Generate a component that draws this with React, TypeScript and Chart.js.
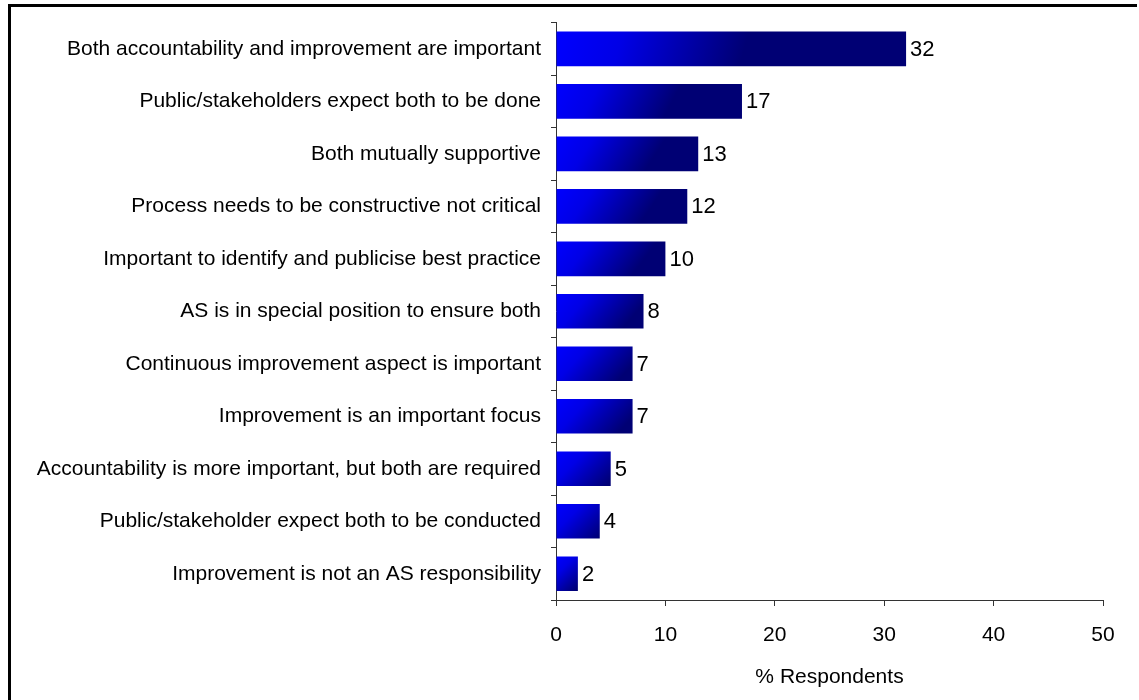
import React, { useEffect, useRef } from "react";
import { Chart, registerables } from "chart.js";

Chart.register(...registerables);

const categories = [
  "Both accountability and improvement are important",
  "Public/stakeholders expect both to be done",
  "Both mutually supportive",
  "Process needs to be constructive not critical",
  "Important to identify and publicise best practice",
  "AS is in special position to ensure both",
  "Continuous improvement aspect is important",
  "Improvement is an important focus",
  "Accountability is more important, but both are required",
  "Public/stakeholder expect both to be conducted",
  "Improvement is not an AS responsibility",
];

const respondents = [32, 17, 13, 12, 10, 8, 7, 7, 5, 4, 2];

const xAxisTitle = "% Respondents";
const xMin = 0;
const xMax = 50;
const xStep = 10;

const FONT = "'Liberation Sans', Arial, sans-serif";
const BAR_PCT = 0.66;

export default function App() {
  const ref = useRef<HTMLCanvasElement | null>(null);

  useEffect(() => {
    if (!ref.current) return;

    const valueLabels = {
      id: "valueLabels",
      afterDatasetsDraw(chart: any) {
        const ctx = chart.ctx;
        const meta = chart.getDatasetMeta(0);
        ctx.save();
        ctx.font = `22px ${FONT}`;
        ctx.fillStyle = "#000";
        ctx.textAlign = "left";
        ctx.textBaseline = "middle";
        meta.data.forEach((el: any, i: number) => {
          const { x, y } = el.getProps(["x", "y"], true);
          ctx.fillText(String(respondents[i]), x + 4, y + 1);
        });
        ctx.restore();
      },
    };

    const frame = {
      id: "frame",
      afterDraw(chart: any) {
        const ctx = chart.ctx;
        ctx.save();
        ctx.fillStyle = "#000";
        ctx.fillRect(8, 4, 1129, 3);
        ctx.fillRect(8, 4, 3, 700);
        ctx.restore();
      },
    };

    const chart = new Chart(ref.current, {
      type: "bar",
      data: {
        labels: categories,
        datasets: [
          {
            data: respondents,
            categoryPercentage: 1,
            barPercentage: BAR_PCT,
            borderWidth: 0,
            backgroundColor: (c: any) => {
              const ch = c.chart;
              const xs = ch.scales?.x;
              const ys = ch.scales?.y;
              if (!xs || !ys || !ch.chartArea) return "#0000ff";
              const v = respondents[c.dataIndex] ?? 0;
              const x0 = xs.getPixelForValue(0);
              const x1 = xs.getPixelForValue(v);
              const yc = ys.getPixelForValue(c.dataIndex);
              const h = (ys.height / categories.length) * BAR_PCT;
              const y0 = yc - h / 2;
              const w = Math.max(1, x1 - x0);
              const L2 = w * w + h * h;
              const g = ch.ctx.createLinearGradient(
                x0,
                y0,
                x0 + (2 * w * h * h) / L2 * 0.5 + w * 0.5,
                y0 + (2 * w * w * h) / L2 * 0.5 + h * 0.5
              );
              g.addColorStop(0, "#0000ff");
              g.addColorStop(0.35, "#0000e6");
              g.addColorStop(1, "#000074");
              return g;
            },
          },
        ],
      },
      options: {
        indexAxis: "y",
        animation: false,
        responsive: false,
        maintainAspectRatio: false,
        events: [],
        layout: { padding: { top: 19, right: 36, left: 0, bottom: 12 } },
        plugins: {
          legend: { display: false },
          tooltip: { enabled: false },
          title: { display: false },
        },
        scales: {
          y: {
            type: "category",
            offset: true,
            afterFit: (s: any) => {
              s.width = 556;
            },
            grid: {
              display: true,
              offset: true,
              drawOnChartArea: false,
              tickLength: 5,
              color: "#333",
              lineWidth: 1,
            },
            border: { display: true, color: "#333", width: 1 },
            ticks: {
              color: "#000",
              padding: 10,
              font: { family: FONT, size: 21 },
              autoSkip: false,
            },
          },
          x: {
            type: "linear",
            min: xMin,
            max: xMax,
            grid: {
              display: true,
              drawOnChartArea: false,
              tickLength: 6,
              color: "#333",
              lineWidth: 1,
            },
            border: { display: true, color: "#333", width: 1 },
            ticks: {
              stepSize: xStep,
              color: "#000",
              padding: 19,
              font: { family: FONT, size: 21, lineHeight: 1 },
            },
            title: {
              display: true,
              text: xAxisTitle,
              color: "#000",
              font: { family: FONT, size: 21, lineHeight: 1 },
              padding: { top: 2, bottom: 0 },
            },
          },
        },
      },
      plugins: [valueLabels, frame],
    });

    return () => chart.destroy();
  }, []);

  return (
    <div
      style={{
        position: "fixed",
        left: 0,
        top: 0,
        width: 1139,
        height: 700,
        background: "#fff",
      }}
    >
      <canvas ref={ref} width={1139} height={700} style={{ display: "block" }} />
    </div>
  );
}
